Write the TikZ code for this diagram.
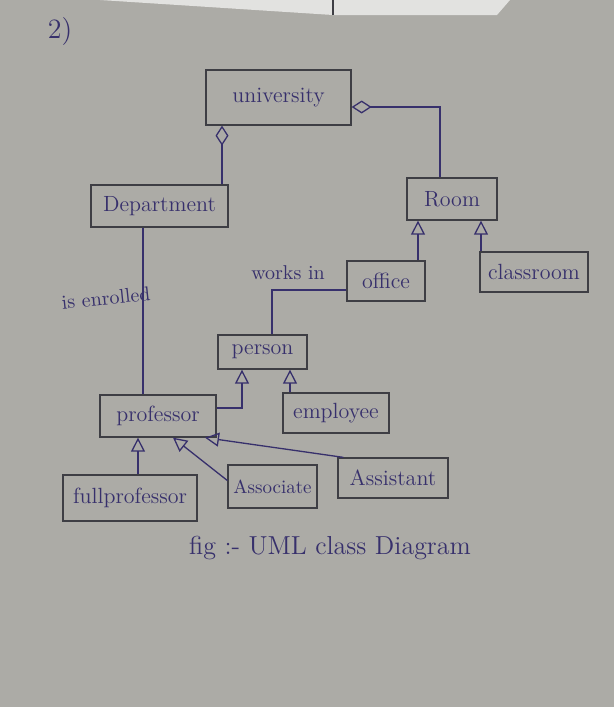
\documentclass[tikz,border=0pt]{standalone}
\usetikzlibrary{arrows.meta}
\definecolor{paper}{RGB}{172,171,166}
\definecolor{sheet}{RGB}{226,226,224}
\definecolor{ink}{RGB}{55,48,108}
\definecolor{pen}{RGB}{62,62,68}
\begin{document}
\begin{tikzpicture}[x=0.5pt,y=-0.5pt,
  box/.style={draw=pen,line width=0.65pt,inner sep=0pt,text=ink,font=\fontsize{11}{13}\selectfont},
  ln/.style={draw=ink,line width=0.65pt},
  gen/.style={ln,-{Triangle[open,length=7pt,width=7pt]}},
  agg/.style={ln,-{Diamond[open,length=10pt,width=6.5pt]}},
  lbl/.style={text=ink,inner sep=0pt,font=\fontsize{10}{12}\selectfont}]
\fill[paper] (0,0) rectangle (614,707);
\useasboundingbox (0,0) rectangle (614,707);
% photo artefacts: sheet at top
\fill[sheet] (100,0) -- (333,15) -- (497,15) -- (510,0) -- cycle;
\draw[pen,line width=0.8pt] (333,0) -- (333,15);
\node[lbl,font=\fontsize{14}{16}\selectfont] (num) at (60,32) {2)};
% classes
\node[box,minimum width=72.5pt,minimum height=27.5pt] (univ) at (278.5,97.5) {university};
\node[box,minimum width=68.5pt,minimum height=21pt] (dept) at (159.5,206) {Department};
\node[box,minimum width=45pt,minimum height=21pt] (room) at (452,199) {Room};
\node[box,minimum width=39pt,minimum height=20pt] (office) at (386,281) {office};
\node[box,minimum width=54pt,minimum height=20pt] (classroom) at (534,272) {classroom};
\node[box,minimum width=44.5pt,minimum height=17pt] (person) at (262.5,352) {person};
\node[box,minimum width=58pt,minimum height=21pt] (prof) at (158,416) {professor};
\node[box,minimum width=53pt,minimum height=20pt] (emp) at (336,413) {employee};
\node[box,minimum width=67pt,minimum height=23pt] (full) at (130,498) {fullprofessor};
\node[box,minimum width=44.5pt,minimum height=21.5pt,font=\fontsize{9.5}{11}\selectfont] (assoc) at (272.5,486.5) {Associate};
\node[box,minimum width=55pt,minimum height=20pt] (assist) at (393,478) {Assistant};
% helper points on borders
\coordinate (uS) at ([xshift=-28.25pt]univ.south);
\coordinate (uE) at ([yshift=-4.75pt]univ.east);
\coordinate (rN) at ([xshift=-6pt]room.north);
\coordinate (rS1) at ([xshift=-17pt]room.south);
\coordinate (rS2) at ([xshift=14.5pt]room.south);
\coordinate (pN) at ([xshift=4.75pt]person.north);
\coordinate (pS1) at ([xshift=-10.25pt]person.south);
\coordinate (pS2) at ([xshift=13.75pt]person.south);
\coordinate (oW) at ([yshift=-4.5pt]office.west);
\coordinate (prE) at ([yshift=4pt]prof.east);
\coordinate (prS1) at ([xshift=-10pt]prof.south);
\coordinate (prS2) at ([xshift=7.5pt]prof.south);
\coordinate (prS3) at ([xshift=23.5pt]prof.south);
\coordinate (dS) at ([xshift=-8.25pt]dept.south);
% connectors
\draw[agg] (dept.north -| uS) -- (uS);
\draw[agg] (rN) |- (uE);
\draw[gen] (office.north -| rS1) -- (rS1);
\draw[gen] (classroom.north -| rS2) -- (rS2);
\draw[ln] (oW) -| (pN);
\draw[ln] (dS) -- (prof.north -| dS);
\draw[gen] (prE) -| (pS1);
\draw[gen] (emp.north -| pS2) -- (pS2);
\draw[gen] (full.north -| prS1) -- (prS1);
\draw[gen] ([yshift=3pt]assoc.west) -- (prS2);
\draw[gen] ([xshift=3pt]assist.north west) -- (prS3);
% labels
\node[lbl,rotate=6] (enr) at (106,298) {is enrolled};
\node[lbl] (works) at (288,273) {works in};
\node[lbl,font=\fontsize{13}{15}\selectfont] (cap) at (330,548) {fig :- UML class Diagram};
\end{tikzpicture}
\end{document}
